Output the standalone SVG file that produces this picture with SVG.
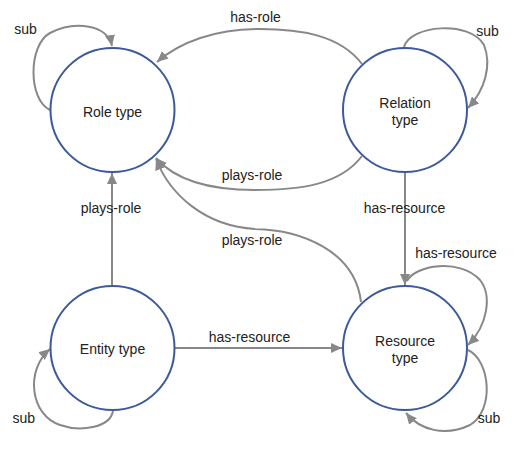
<svg xmlns="http://www.w3.org/2000/svg" width="525" height="453" viewBox="0 0 525 453">
<defs>
<marker id="arr" markerUnits="userSpaceOnUse" markerWidth="12" markerHeight="11" refX="11" refY="5" orient="auto">
<path d="M0,0 L11,5 L0,10 z" fill="#888888"/>
</marker>
<style>
.node circle{fill:#ffffff;stroke:#3c5a9b;stroke-width:2}
.node text{font-family:"Liberation Sans",Arial,sans-serif;font-size:14px;fill:#222222;text-anchor:middle}
.edge{fill:none;stroke:#888888;stroke-width:2;marker-end:url(#arr)}
.lbl{font-family:"Liberation Sans",Arial,sans-serif;font-size:14px;fill:#222222;text-anchor:middle}
</style>
</defs>
<rect width="525" height="453" fill="#ffffff"/>
<g id="connectors">
<path class="edge" d="M 50 110 C 28 100, 28 45, 50 33 C 75 20, 108 25, 112 46"/>
<path class="edge" d="M 362 64 C 340 35, 300 29, 260 29 C 215 29, 180 42, 157 62"/>
<path class="edge" d="M 404 47 C 410 25, 470 20, 484 45 C 492 65, 485 90, 468 108"/>
<path class="edge" d="M 362 156 C 340 185, 300 190, 255 190 C 210 190, 175 180, 156 158"/>
<path class="edge" d="M 361 302 C 355 250, 300 230, 255 229 C 205 226, 170 195, 156 159"/>
<path class="edge" d="M 112 285 L 112 173"/>
<path class="edge" d="M 405 173 L 405 285"/>
<path class="edge" d="M 407 281 C 415 265, 460 258, 480 280 C 492 295, 488 325, 468 345"/>
<path class="edge" d="M 468 350 C 490 360, 495 410, 470 425 C 445 437, 420 430, 406 413"/>
<path class="edge" d="M 113 411 C 110 428, 80 432, 60 425 C 30 415, 25 370, 50 349"/>
<path class="edge" d="M 175 348 L 342 348"/>
<text class="lbl" x="25.5" y="34">sub</text>
<text class="lbl" x="255.5" y="22">has-role</text>
<text class="lbl" x="487.5" y="36">sub</text>
<text class="lbl" x="252" y="180">plays-role</text>
<text class="lbl" x="252" y="245">plays-role</text>
<text class="lbl" x="111" y="213">plays-role</text>
<text class="lbl" x="404.5" y="213">has-resource</text>
<text class="lbl" x="456" y="258">has-resource</text>
<text class="lbl" x="249.5" y="342">has-resource</text>
<text class="lbl" x="489" y="423">sub</text>
<text class="lbl" x="23.7" y="423">sub</text>
</g>
<g id="role-type" class="node">
<circle cx="112.5" cy="110" r="62"/>
<text x="112.5" y="117">Role type</text>
</g>
<g id="relation-type" class="node">
<circle cx="405" cy="110" r="62"/>
<text x="405" y="108">Relation</text>
<text x="405" y="125">type</text>
</g>
<g id="entity-type" class="node">
<circle cx="112.5" cy="348" r="62"/>
<text x="112.5" y="354">Entity type</text>
</g>
<g id="resource-type" class="node">
<circle cx="405" cy="348" r="62"/>
<text x="405" y="346">Resource</text>
<text x="405" y="363">type</text>
</g>
</svg>
